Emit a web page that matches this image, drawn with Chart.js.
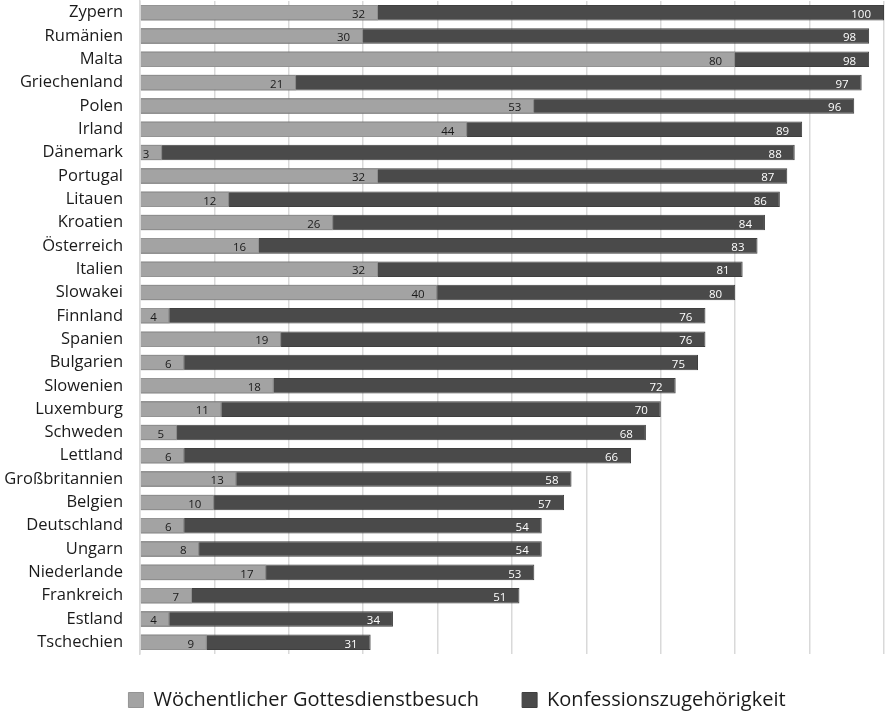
<!DOCTYPE html>
<html>
<head>
<meta charset="utf-8">
<script src="https://cdn.jsdelivr.net/npm/chart.js@4/dist/chart.umd.min.js"></script>
<style>
html,body{margin:0;padding:0;background:#fff;overflow:hidden;}
#wrap{width:887px;height:716px;position:relative;}
</style>
</head>
<body>
<div id="wrap"><canvas id="c"></canvas></div>
<script>
const countries = ["Zypern","Rumänien","Malta","Griechenland","Polen","Irland","Dänemark","Portugal","Litauen","Kroatien","Österreich","Italien","Slowakei","Finnland","Spanien","Bulgarien","Slowenien","Luxemburg","Schweden","Lettland","Großbritannien","Belgien","Deutschland","Ungarn","Niederlande","Frankreich","Estland","Tschechien"];
const weeklyAttendance = [32,30,80,21,53,44,3,32,12,26,16,32,40,4,19,6,18,11,5,6,13,10,6,8,17,7,4,9];
const membership = [100,98,98,97,96,89,88,87,86,84,83,81,80,76,76,75,72,70,68,66,58,57,54,54,53,51,34,31];
const seriesNames = ["Wöchentlicher Gottesdienstbesuch","Konfessionszugehörigkeit"];

const FONT = "'Open Sans', sans-serif";

const valueLabels = {
  id: 'valueLabels',
  afterDatasetsDraw(chart) {
    const ctx = chart.ctx;
    ctx.save();
    ctx.font = "11.5px " + FONT;
    ctx.textAlign = 'right';
    ctx.textBaseline = 'middle';
    chart.data.datasets.forEach((ds, di) => {
      const meta = chart.getDatasetMeta(di);
      meta.data.forEach((el, i) => {
        ctx.fillStyle = di === 0 ? '#1a1a1a' : '#ffffff';
        ctx.fillText(String(ds.data[i]), el.x - 13, el.y + 2);
      });
    });
    ctx.restore();
  }
};

const legendShift = {
  id: 'legendShift',
  afterLayout(chart) {
    const lg = chart.legend;
    if (!lg) return;
    lg.left += 15; lg.right += 15;
    lg.top -= 7; lg.bottom -= 7;
  }
};

new Chart(document.getElementById('c'), {
  type: 'bar',
  data: {
    labels: countries,
    datasets: [
      { label: seriesNames[0], data: weeklyAttendance, backgroundColor: '#a3a3a3', borderColor: '#949494', borderWidth: 1, grouped: false, order: 0 },
      { label: seriesNames[1], data: membership, backgroundColor: '#4a4a4a', borderColor: '#3f3f3f', borderWidth: 1, grouped: false, order: 1 }
    ]
  },
  options: {
    indexAxis: 'y',
    responsive: true,
    maintainAspectRatio: false,
    animation: false,
    devicePixelRatio: 1,
    layout: { padding: { left: 0, right: 3, top: 1, bottom: -11 } },
    datasets: { bar: { categoryPercentage: 1, barPercentage: 0.665 } },
    scales: {
      x: {
        min: 0, max: 100,
        ticks: { display: false, stepSize: 10 },
        grid: { color: '#d9d9d9', lineWidth: 1.5, drawTicks: false },
        border: { display: false },
        afterFit(scale) { scale.height = 0; scale.paddingLeft = 0; scale.paddingRight = 0; }
      },
      y: {
        ticks: { color: '#1a1a1a', font: { family: FONT, size: 16.5 }, padding: 17, autoSkip: false },
        grid: { display: false, drawTicks: false },
        border: { display: true, color: '#d9d9d9', width: 1.5 },
        afterFit(scale) { scale.width = 140; scale.paddingTop = 0; scale.paddingBottom = 0; }
      }
    },
    plugins: {
      legend: {
        position: 'bottom',
        labels: { boxWidth: 15, boxHeight: 15, color: '#1a1a1a', font: { family: FONT, size: 20 }, padding: 43 }
      },
      tooltip: { enabled: false }
    }
  },
  plugins: [valueLabels, legendShift]
});
</script>
</body>
</html>
